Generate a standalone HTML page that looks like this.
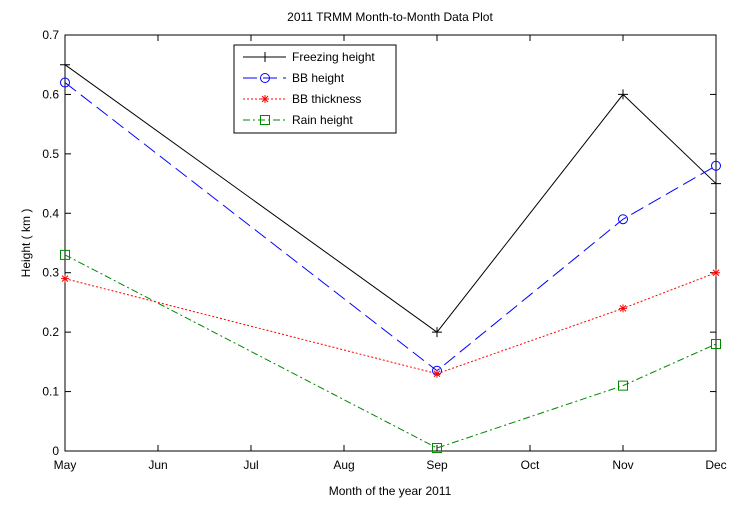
<!DOCTYPE html>
<html><head><meta charset="utf-8"><style>body{margin:0;background:#fff}svg{display:block;font-family:"Liberation Sans",sans-serif}</style></head><body>
<svg id="c" width="740" height="510"></svg>
<script>
const months=["May","Jun","Jul","Aug","Sep","Oct","Nov","Dec"];
const yTicks=[0,0.1,0.2,0.3,0.4,0.5,0.6,0.7];
const ptMonths=[0,4,6,7];
const freezing=[0.65,0.2,0.6,0.45];
const bbHeight=[0.62,0.135,0.39,0.48];
const bbThick=[0.29,0.13,0.24,0.30];
const rain=[0.33,0.005,0.11,0.18];
const L=65,R=716,T=35,B=451;
const x=i=>L+(R-L)*i/7, y=v=>B-(B-T)*v/0.7;
const s=document.getElementById('c'),NS="http://www.w3.org/2000/svg";
function el(t,a,p){const e=document.createElementNS(NS,t);for(const k in a)e.setAttribute(k,a[k]);(p||s).appendChild(e);return e;}
const f=el('rect',{x:L,y:T,width:R-L,height:B-T,fill:'#fff',stroke:'#000','stroke-width':1});

months.forEach((m,i)=>{const X=x(i);
el('line',{x1:X,y1:B,x2:X,y2:B-6,stroke:'#000'});el('line',{x1:X,y1:T,x2:X,y2:T+6,stroke:'#000'});
const t=el('text',{x:X,y:B+18,'text-anchor':'middle','font-size':12});t.textContent=m;
});
yTicks.forEach(v=>{const Y=y(v);
el('line',{x1:L,y1:Y,x2:L+6,y2:Y,stroke:'#000'});el('line',{x1:R,y1:Y,x2:R-6,y2:Y,stroke:'#000'});
const t=el('text',{x:L-6,y:Y+4,'text-anchor':'end','font-size':12});t.textContent=v===0?'0':v.toFixed(1);
});
let t=el('text',{x:390,y:21,'text-anchor':'middle','font-size':12});t.textContent='2011 TRMM Month-to-Month Data Plot';

t=el('text',{x:390,y:495,'text-anchor':'middle','font-size':12});t.textContent='Month of the year 2011';

t=el('text',{x:30,y:243,'text-anchor':'middle','font-size':12,transform:'rotate(-90 30 243)'});t.textContent='Height ( km )';

function marker(g,kind,X,Y,c){
 if(kind==='plus'){el('path',{d:`M${X-5} ${Y}H${X+5}M${X} ${Y-5}V${Y+5}`,stroke:c},g);}
 else if(kind==='circle'){el('circle',{cx:X,cy:Y,r:4.5,fill:'none',stroke:c},g);}
 else if(kind==='star'){el('path',{d:`M${X-4} ${Y}H${X+4}M${X} ${Y-4}V${Y+4}M${X-3} ${Y-3}L${X+3} ${Y+3}M${X-3} ${Y+3}L${X+3} ${Y-3}`,stroke:c},g);}
 else el('rect',{x:X-4.5,y:Y-4.5,width:9,height:9,fill:'none',stroke:c},g);}
const series=[["freezing-height",freezing,'#000','','plus','Freezing height'],
["bb-height",bbHeight,'#00f','14 6','circle','BB height'],
["bb-thickness",bbThick,'#f00','2 2','star','BB thickness'],
["rain-height",rain,'#080','7 3 2 3','square','Rain height']];
series.forEach(([n,d,c,da,mk])=>{const g=el('g',{});

el('polyline',{points:d.map((v,i)=>x(ptMonths[i])+','+y(v)).join(' '),fill:'none',stroke:c,'stroke-dasharray':da},g);
d.forEach((v,i)=>marker(g,mk,x(ptMonths[i]),y(v),c));});
const lg=el('g',{});
el('rect',{x:234,y:45,width:162,height:88,fill:'#fff',stroke:'#000'},lg);
series.forEach(([n,d,c,da,mk,lab],i)=>{const Y=57+i*21;
const e=el('g',{},lg);
el('line',{x1:243,y1:Y,x2:286,y2:Y,stroke:c,'stroke-dasharray':da},e);marker(e,mk,265,Y,c);
const tt=el('text',{x:292,y:Y+4,'font-size':12},e);tt.textContent=lab;});
</script></body></html>
